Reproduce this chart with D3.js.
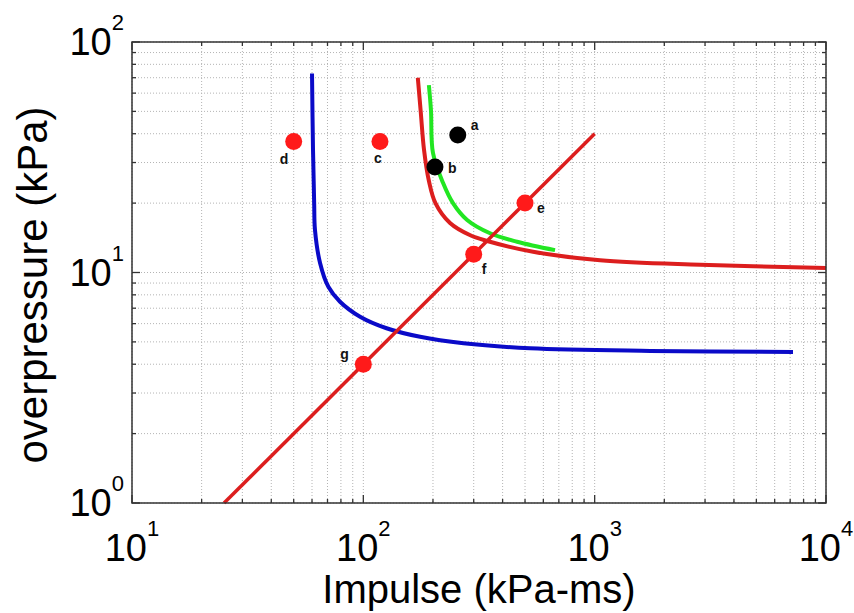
<!DOCTYPE html>
<html>
<head>
<meta charset="utf-8">
<script src="https://cdn.jsdelivr.net/npm/d3@7"></script>
<style>
  html, body { margin: 0; padding: 0; background: #fff; }
  svg { display: block; }
  text { font-family: "Liberation Sans", Arial, sans-serif; }
</style>
</head>
<body>
<svg id="chart" width="854" height="613"></svg>
<script>
// ---------------- data ----------------
const xDomain = [10, 10000];
const yDomain = [1, 100];
const xTickValues = [10, 100, 1000, 10000];
const xTickExponents = ["1", "2", "3", "4"];
const yTickValues = [1, 10, 100];
const yTickExponents = ["0", "1", "2"];

// blue P-I curve  [impulse, overpressure]
const blueCurve = [[60, 73], [60.6, 34], [61.3, 20], [61.8, 15.3], [65, 11], [70.6, 8.67],
  [79.3, 7.47], [96.8, 6.43], [126, 5.73], [176, 5.26], [271, 4.93], [526, 4.69],
  [1740, 4.57], [7200, 4.52]];
// red P-I curve
const redCurve = [[172, 70], [177, 50], [183, 34], [192, 25], [205, 20], [237, 16.4],
  [290, 14.5], [343, 13.7], [542, 12.3], [1055, 11.3], [2860, 10.8], [10000, 10.45]];
// green P-I curve
const greenCurve = [[192, 65], [196, 50.7], [200, 33], [221, 24.5], [244, 20], [281, 16.9],
  [353, 14.8], [462, 13.6], [674, 12.5]];
// red straight line
const redLine = [[25, 1], [1000, 40]];

// labelled points
const pointNames = ["a", "b", "c", "d", "e", "f", "g"];
const pointImpulse = [256, 204, 118, 50, 500, 300, 100];
const pointPressure = [39.5, 28.7, 37, 37, 20, 12, 4];
const pointColors = ["black", "black", "red", "red", "red", "red", "red"];
const labelDx = [13, 13, -6, -14, 12, 8, -23];
const labelDy = [-5, 6, 21, 22, 10, 20, -5];

const xLabel = "Impulse (kPa-ms)";
const yLabel = "overpressure (kPa)";

// ---------------- layout ----------------
const svg = d3.select("#chart");
const L = 132, R = 826, T = 42, B = 503;

const x = d3.scaleLog().domain(xDomain).range([L, R]);
const y = d3.scaleLog().domain(yDomain).range([B, T]);

const colors = { blue: "#0a0ac8", red: "#dc1e1e", green: "#22e622", dotRed: "#ff1a1a", black: "#000" };

// grid
const xAll = x.ticks();
const yAll = y.ticks();
const grid = svg.append("g");
grid.selectAll("line.gx").data(xAll).join("line")
  .attr("x1", d => x(d)).attr("x2", d => x(d)).attr("y1", T).attr("y2", B)
  .attr("stroke", "#b4b4b4").attr("stroke-width", 1).attr("stroke-dasharray", "1,2");
grid.selectAll("line.gy").data(yAll).join("line")
  .attr("y1", d => y(d)).attr("y2", d => y(d)).attr("x1", L).attr("x2", R)
  .attr("stroke", "#b4b4b4").attr("stroke-width", 1).attr("stroke-dasharray", "1,2");

// ticks (inside, all four sides)
const isMajor = v => Math.abs(Math.log10(v) - Math.round(Math.log10(v))) < 1e-9;
const ticks = svg.append("g").attr("stroke", "#333").attr("stroke-width", 1.3);
xAll.forEach(v => {
  const len = isMajor(v) ? 8 : 4;
  ticks.append("line").attr("x1", x(v)).attr("x2", x(v)).attr("y1", B).attr("y2", B - len);
  ticks.append("line").attr("x1", x(v)).attr("x2", x(v)).attr("y1", T).attr("y2", T + len);
});
yAll.forEach(v => {
  const len = isMajor(v) ? 8 : 4;
  ticks.append("line").attr("y1", y(v)).attr("y2", y(v)).attr("x1", L).attr("x2", L + len);
  ticks.append("line").attr("y1", y(v)).attr("y2", y(v)).attr("x1", R).attr("x2", R - len);
});

// curves
const line = d3.line().x(d => x(d[0])).y(d => y(d[1])).curve(d3.curveCatmullRom.alpha(0.5));
const plot = svg.append("g");
plot.append("path").datum(blueCurve).attr("d", line)
  .attr("fill", "none").attr("stroke", colors.blue).attr("stroke-width", 4);
plot.append("path").datum(greenCurve).attr("d", line)
  .attr("fill", "none").attr("stroke", colors.green).attr("stroke-width", 4);
plot.append("path").datum(redCurve).attr("d", line)
  .attr("fill", "none").attr("stroke", colors.red).attr("stroke-width", 4);
plot.append("path").datum(redLine).attr("d", d3.line().x(d => x(d[0])).y(d => y(d[1])))
  .attr("fill", "none").attr("stroke", colors.red).attr("stroke-width", 3.5);

// points
const pts = pointNames.map((n, i) => ({ n, I: pointImpulse[i], P: pointPressure[i], c: pointColors[i], dx: labelDx[i], dy: labelDy[i] }));
plot.selectAll("circle").data(pts).join("circle")
  .attr("cx", d => x(d.I)).attr("cy", d => y(d.P)).attr("r", 8.5)
  .attr("fill", d => d.c === "black" ? colors.black : colors.dotRed);
plot.selectAll("text.pl").data(pts).join("text").attr("class", "pl")
  .attr("x", d => x(d.I) + d.dx).attr("y", d => y(d.P) + d.dy)
  .attr("font-size", 14).attr("font-weight", "bold").attr("fill", "#111")
  .text(d => d.n);

// axes box
svg.append("rect").attr("x", L).attr("y", T).attr("width", R - L).attr("height", B - T)
  .attr("fill", "none").attr("stroke", "#333").attr("stroke-width", 1.5);

// tick labels
xTickValues.forEach((v, i) => {
  const t = svg.append("text").attr("x", x(v)).attr("y", 561)
    .attr("text-anchor", "middle").attr("font-size", 38).attr("fill", "#000");
  t.append("tspan").text("10");
  t.append("tspan").attr("dy", -25).attr("font-size", 22).text(xTickExponents[i]);
});
yTickValues.forEach((v, i) => {
  const t = svg.append("text").attr("x", 124).attr("y", y(v) + 13)
    .attr("text-anchor", "end").attr("font-size", 38).attr("fill", "#000");
  t.append("tspan").text("10");
  t.append("tspan").attr("dy", -25).attr("font-size", 22).text(yTickExponents[i]);
});

// axis titles
svg.append("text").attr("x", 479).attr("y", 603).attr("text-anchor", "middle")
  .attr("font-size", 40).attr("fill", "#000").text(xLabel);
svg.append("text").attr("transform", "translate(47,285) rotate(-90)").attr("text-anchor", "middle")
  .attr("font-size", 42).attr("fill", "#000").text(yLabel);
</script>
</body>
</html>
